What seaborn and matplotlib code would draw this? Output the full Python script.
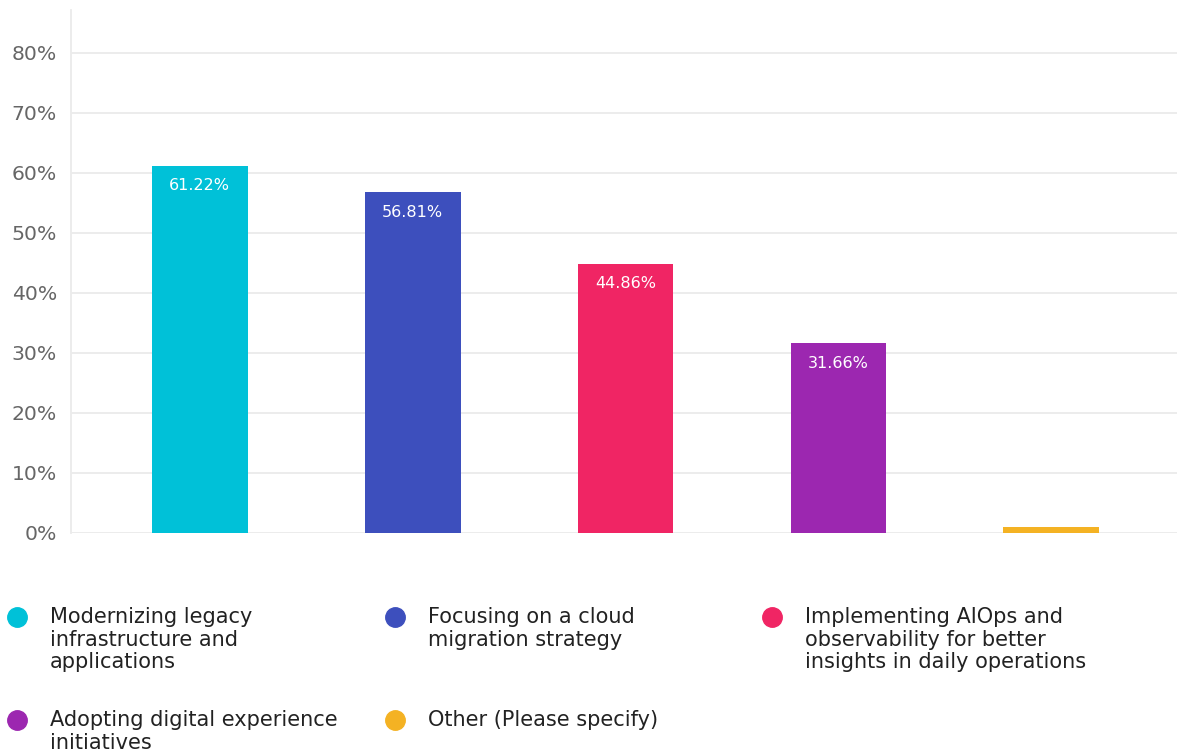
import matplotlib
matplotlib.use("Agg")
import matplotlib.pyplot as plt
from matplotlib.lines import Line2D
import seaborn as sns
import pandas as pd

categories = [
    "Modernizing legacy\ninfrastructure and\napplications",
    "Focusing on a cloud\nmigration strategy",
    "Implementing AIOps and\nobservability for better\ninsights in daily operations",
    "Adopting digital experience\ninitiatives",
    "Other (Please specify)",
]
values = [61.22, 56.81, 44.86, 31.66, 1.05]
show_label = [True, True, True, True, False]
colors = ["#00C1D8", "#3D4FBD", "#F02564", "#9C27B0", "#F4B223"]
yticks = [0, 10, 20, 30, 40, 50, 60, 70, 80]

df = pd.DataFrame({"category": categories, "value": values})

sns.set_theme(style="white")
plt.rcParams["font.family"] = ["DejaVu Sans"]

W, H = 1177, 753
fig = plt.figure(figsize=(W / 100, H / 100), dpi=100)
ax = fig.add_axes([71 / W, 220 / H, (1177 - 71) / W, 523 / H])

sns.barplot(data=df, x="category", y="value", hue="category",
            palette=colors, width=0.45, legend=False, ax=ax,
            saturation=1, edgecolor="none")

ax.set_ylim(0, 523 / 60 * 10)
ax.set_xlim(-0.605, 4.59)
ax.set_yticks(yticks)
ax.set_yticklabels([f"{t}%" for t in yticks], fontsize=14.7, color="#666666")
ax.set_xticks([])
ax.set_xlabel("")
ax.set_ylabel("")
ax.grid(axis="y", color="#ebebeb", linewidth=1.3)
ax.set_axisbelow(True)
ax.tick_params(axis="y", length=5, color="#ebebeb", pad=5)
for side in ["top", "right", "bottom"]:
    ax.spines[side].set_visible(False)
ax.spines["left"].set_color("#ebebeb")
ax.spines["left"].set_linewidth(1.3)

# value labels inside the top of each bar
for i, (v, s) in enumerate(zip(values, show_label)):
    if s:
        ax.annotate(f"{v:.2f}%", xy=(i, v), xytext=(0, -9),
                    textcoords="offset points", ha="center", va="top",
                    color="white", fontsize=11.5)

# legend laid out in fixed columns below the plot
col_x = [17, 395, 772]
row_y = [617, 720]
for i, (label, c) in enumerate(zip(categories, colors)):
    mx = col_x[i % 3]
    my = row_y[i // 3]
    fig.add_artist(Line2D([mx / W], [1 - my / H], marker="o", markersize=14,
                          color=c, linestyle="none",
                          transform=fig.transFigure))
    fig.text((mx + 33) / W, 1 - (my - 10) / H, label, ha="left", va="top",
             fontsize=15, color="#222222", linespacing=1.17)

fig.savefig("out.png", dpi=100)
